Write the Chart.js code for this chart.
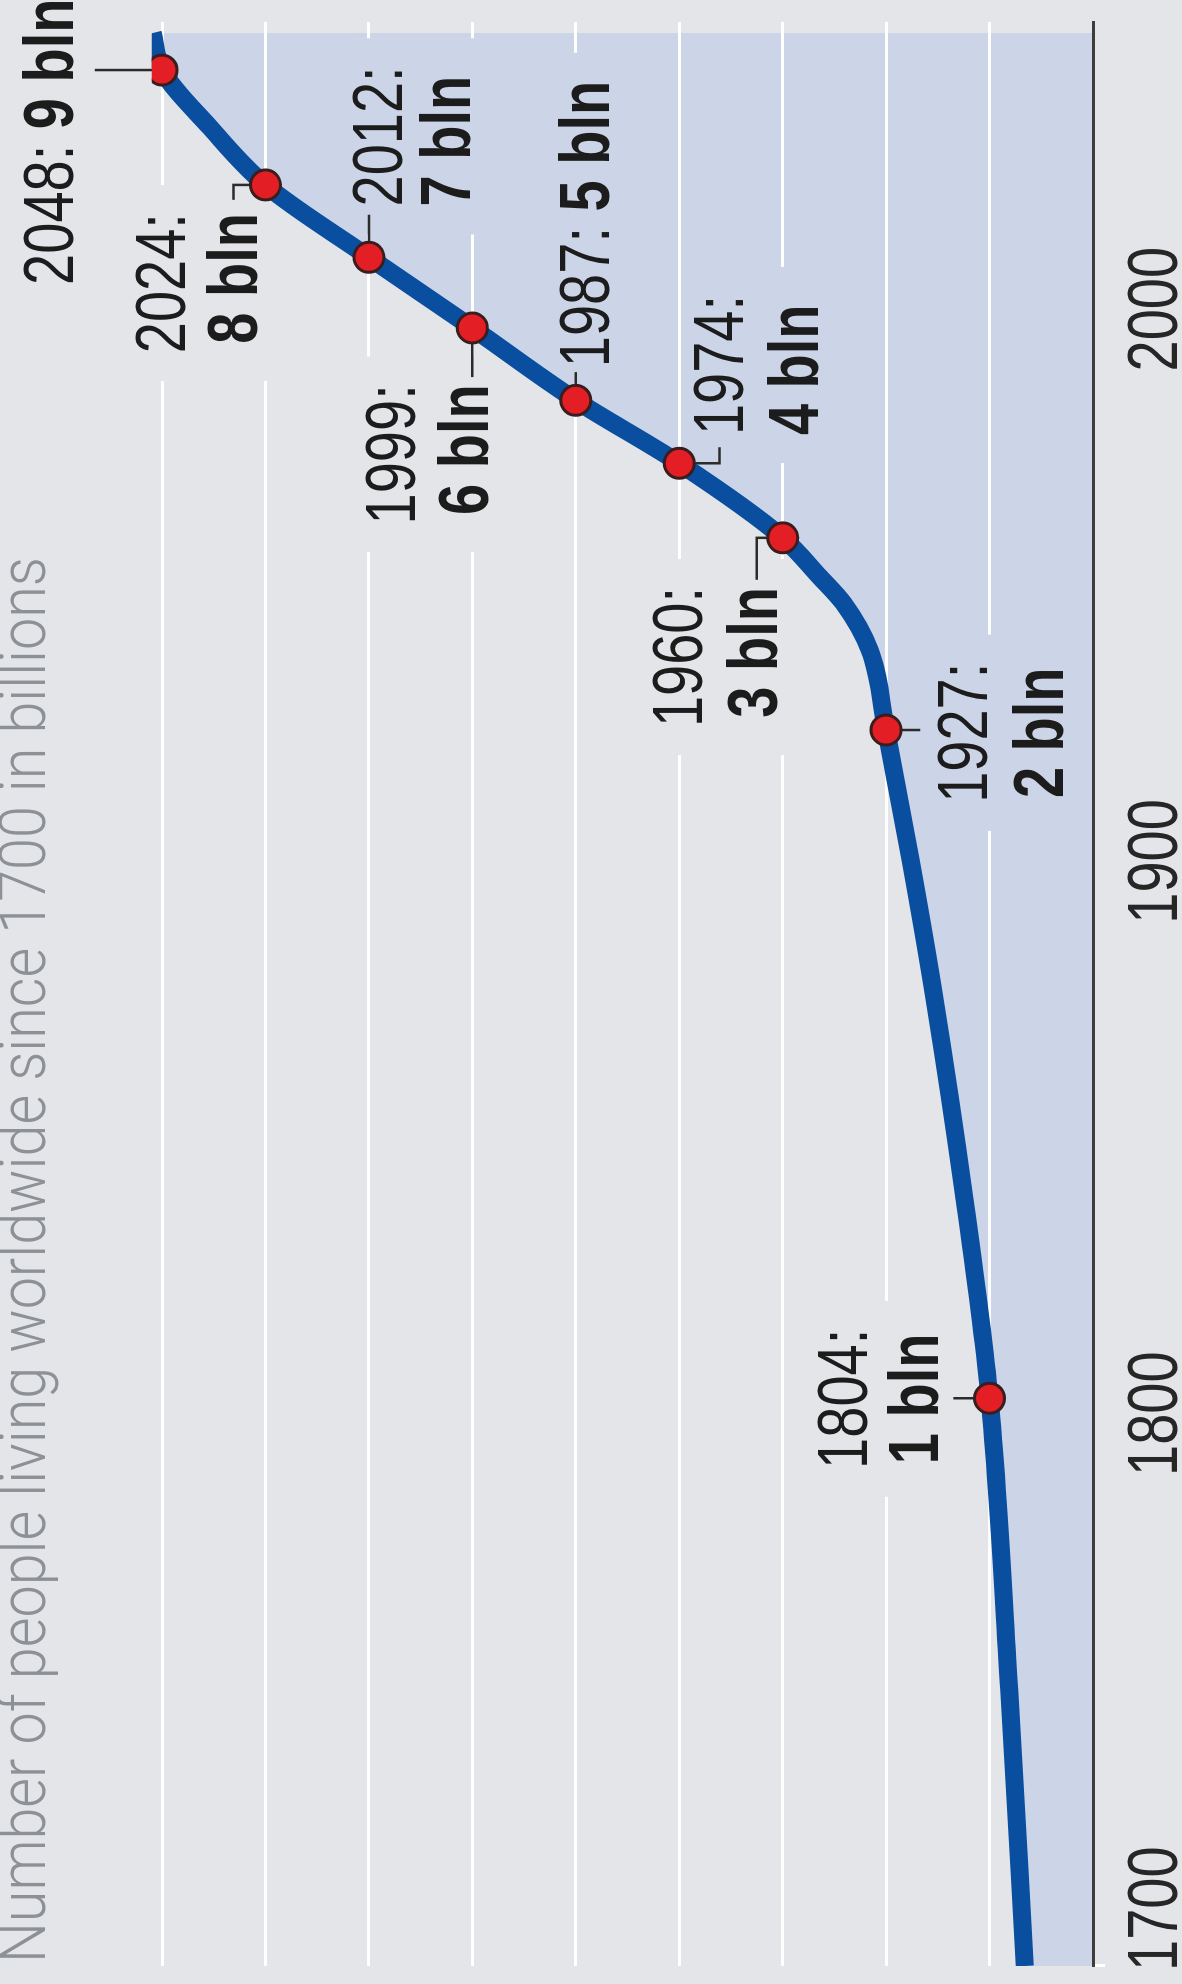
<!DOCTYPE html>
<html><head><meta charset="utf-8">
<script src="https://cdn.jsdelivr.net/npm/chart.js@4.4.1/dist/chart.umd.min.js"></script>
<style>
html,body{margin:0;padding:0;background:#e3e5e8;overflow:hidden;width:1182px;height:1984px;}
#wrap{position:absolute;left:0;top:0;width:1984px;height:1182px;transform-origin:0 0;transform:translate(0,1984px) rotate(-90deg);}
canvas{display:block;}
</style></head><body>
<div id="wrap"><canvas id="c" width="1984" height="1182"></canvas></div>
<script>
// ---- data (years, world population in billions) ----
const lineYears = [1700, 1750, 1802.8, 1840, 1875, 1900, 1923.8, 1938.3, 1946.7, 1951.5, 1958.6, 1972.1, 1983.5, 1996.6, 2009.4, 2022.5, 2033, 2043.3, 2050];
const lineVals  = [0.66, 0.81, 1.0,    1.25, 1.53, 1.76, 2.0,    2.16,   2.41,   2.64,   3.0,    4.0,    5.0,    6.0,    7.0,    8.0,    8.54, 9.0,    9.09];

const markYears = [1802.8, 1923.8, 1958.6, 1972.1, 1983.5, 1996.6, 2009.4, 2022.5, 2043.3];
const markVals  = [1, 2, 3, 4, 5, 6, 7, 8, 9];
const markYearText = ['1804', '1927', '1960', '1974', '1987', '1999', '2012', '2024', '2048'];
const markValText  = ['1 bln', '2 bln', '3 bln', '4 bln', '5 bln', '6 bln', '7 bln', '8 bln', '9 bln'];

const xTickLabels = ['1700', '1800', '1900', '2000'];
const titleText = 'Number of people living worldwide since 1700 in billions';

// ---- label placement (in data units: year / billions) ----
const labelLayout = [
  {single:false, align:'center', x:1802.7, base:[2.185, 1.498], leader:[[1802.8,1.35],[1802.8,1.0]]},
  {single:false, align:'center', x:1923.3, base:[1.025, 0.29],  leader:[[1923.8,1.67],[1923.8,2.0]]},
  {single:false, align:'right',  x:1949.7, base:[3.78, 3.055],  leader:[[1951.0,3.25],[1958.6,3.25],[1958.6,3.0]]},
  {single:false, align:'left',   x:1977.2, base:[3.384, 2.659], leader:[[1975.0,3.61],[1972.1,3.61],[1972.1,4.0]]},
  {single:true,  align:'left',   x:1989.5, base:[4.679],        leader:[[1988.6,5.0],[1983.5,5.0]]},
  {single:false, align:'right',  x:1986.4, base:[6.555, 5.849], leader:[[1987.7,6.0],[1996.6,6.0]]},
  {single:false, align:'left',   x:2018.6, base:[6.68, 6.023],  leader:[[2017.1,7.0],[2009.4,7.0]]},
  {single:false, align:'right',  x:2017.4, base:[8.778, 8.082], leader:[[2019.8,8.31],[2022.5,8.31],[2022.5,8.0]]},
  {single:true,  align:'left',   x:2004.4, base:[9.86],         leader:[[2043.3,9.65],[2043.3,9.0]]}
];

const BG = '#e3e5e8', FILL = '#ccd4e7';
const FS = 70, SX = 0.8;
const fontReg = '400 ' + FS + 'px "Liberation Sans", Arial, sans-serif';
const fontBold = '700 ' + FS + 'px "Liberation Sans", Arial, sans-serif';

function labelLines(i) {
  const L = labelLayout[i];
  if (L.single) return [[{t: markYearText[i] + ': ', b:false}, {t: markValText[i], b:true}]];
  return [[{t: markYearText[i] + ':', b:false}], [{t: markValText[i], b:true}]];
}
function segsWidth(ctx, segs) {
  let w = 0;
  segs.forEach(s => { ctx.font = s.b ? fontBold : fontReg; w += ctx.measureText(s.t).width * SX; });
  return w;
}
function drawSegs(ctx, segs, x, y, color) {
  let cx = x;
  segs.forEach(s => {
    ctx.save();
    ctx.font = s.b ? fontBold : fontReg;
    const w = ctx.measureText(s.t).width * SX;
    ctx.fillStyle = color;
    ctx.textAlign = 'left'; ctx.textBaseline = 'alphabetic';
    ctx.translate(cx, y); ctx.scale(SX, 1);
    ctx.fillText(s.t, 0, 0);
    ctx.restore();
    cx += w;
  });
}
function lineStartX(ctx, segs, L, xs) {
  const ax = xs.getPixelForValue(L.x);
  const w = segsWidth(ctx, segs);
  if (L.align === 'center') return ax - w / 2;
  if (L.align === 'right') return ax - w;
  return ax;
}
function traceArea(ctx, chart) {
  const pts = chart.getDatasetMeta(1).data;
  const y0 = chart.scales.y.getPixelForValue(0);
  ctx.beginPath();
  ctx.moveTo(pts[0].x, pts[0].y);
  for (let i = 1; i < pts.length; i++) {
    const a = pts[i-1], b = pts[i];
    if (a.cp2x !== undefined && b.cp1x !== undefined) ctx.bezierCurveTo(a.cp2x, a.cp2y, b.cp1x, b.cp1y, b.x, b.y);
    else ctx.lineTo(b.x, b.y);
  }
  ctx.lineTo(pts[pts.length-1].x, y0);
  ctx.lineTo(pts[0].x, y0);
  ctx.closePath();
}

const annotPlugin = {
  id: 'annot',
  beforeDatasetsDraw(chart) {
    const ctx = chart.ctx, xs = chart.scales.x, ys = chart.scales.y, ca = chart.chartArea;
    // clear the grid lines behind each label
    labelLayout.forEach((L, i) => {
      const lines = labelLines(i);
      let x0 = Infinity, x1 = -Infinity, y0 = Infinity, y1 = -Infinity;
      lines.forEach((segs, k) => {
        const sx = lineStartX(ctx, segs, L, xs), w = segsWidth(ctx, segs);
        const by = ys.getPixelForValue(L.base[k]);
        x0 = Math.min(x0, sx); x1 = Math.max(x1, sx + w);
        y0 = Math.min(y0, by - FS * 0.76); y1 = Math.max(y1, by + 14);
      });
      x0 -= 28; x1 += 28; y0 -= 4;
      ctx.save();
      ctx.beginPath(); ctx.rect(x0, y0, x1 - x0, y1 - y0); ctx.clip();
      ctx.fillStyle = BG; ctx.fillRect(x0, y0, x1 - x0, y1 - y0);
      ctx.beginPath(); ctx.rect(ca.left, ca.top, ca.width, ca.height); ctx.clip();
      traceArea(ctx, chart);
      ctx.fillStyle = FILL; ctx.fill();
      ctx.restore();
    });
    // leader lines
    ctx.save();
    ctx.strokeStyle = '#2b2b2b'; ctx.lineWidth = 2.5; ctx.lineJoin = 'miter';
    labelLayout.forEach(L => {
      ctx.beginPath();
      L.leader.forEach((p, k) => {
        const px = xs.getPixelForValue(p[0]), py = ys.getPixelForValue(p[1]);
        if (k === 0) ctx.moveTo(px, py); else ctx.lineTo(px, py);
      });
      ctx.stroke();
    });
    ctx.restore();
  },
  afterDatasetsDraw(chart) {
    const ctx = chart.ctx, xs = chart.scales.x, ys = chart.scales.y, ca = chart.chartArea;
    // milestone labels
    labelLayout.forEach((L, i) => {
      labelLines(i).forEach((segs, k) => {
        drawSegs(ctx, segs, lineStartX(ctx, segs, L, xs), ys.getPixelForValue(L.base[k]), '#1c1c1c');
      });
    });
    // x tick labels (kept inside the canvas edge)
    xTickLabels.forEach(t => {
      const segs = [{t: t, b:false}];
      const w = segsWidth(ctx, segs);
      let sx = xs.getPixelForValue(Number(t)) - w / 2;
      sx = Math.max(13, Math.min(sx, chart.width - 13 - w));
      drawSegs(ctx, segs, sx, ca.bottom + 84, '#262626');
    });
    // title
    ctx.save();
    ctx.font = '300 64px Roboto, "Open Sans", sans-serif';
    const tw = ctx.measureText(titleText).width;
    ctx.fillStyle = '#8d9196';
    ctx.textBaseline = 'alphabetic'; ctx.textAlign = 'left';
    ctx.translate(21, 45); ctx.scale(1406 / tw, 1);
    ctx.fillText(titleText, 0, 0);
    ctx.restore();
  }
};

new Chart(document.getElementById('c').getContext('2d'), {
  type: 'line',
  data: {
    datasets: [
      {
        label: 'Milestones',
        data: markYears.map((x, i) => ({x: x, y: markVals[i]})),
        showLine: false,
        pointRadius: 15, pointHoverRadius: 15,
        pointBackgroundColor: '#e31e24', pointBorderColor: '#3a1d1d', pointBorderWidth: 3,
        order: 0
      },
      {
        label: 'World population',
        data: lineYears.map((x, i) => ({x: x, y: lineVals[i]})),
        borderColor: '#0a4f9f', borderWidth: 18,
        pointRadius: 0, pointHoverRadius: 0,
        cubicInterpolationMode: 'monotone',
        fill: 'origin', backgroundColor: FILL,
        order: 1
      }
    ]
  },
  options: {
    responsive: false, devicePixelRatio: 1, animation: false,
    events: [],
    layout: {padding: {left: 18, right: 22, top: 151.66, bottom: 77}},
    plugins: {
      legend: {display: false}, tooltip: {enabled: false}, title: {display: false},
      filler: {drawTime: 'beforeDraw'}
    },
    scales: {
      x: {
        type: 'linear', min: 1700, max: 2052,
        ticks: {display: false, stepSize: 50, includeBounds: false},
        afterBuildTicks: s => { s.ticks = s.ticks.filter(t => t.value <= 2000 && t.value % 50 === 0); },
        grid: {display: true, drawOnChartArea: false, drawTicks: true, tickLength: 12, tickWidth: 3, tickColor: '#ffffff'},
        border: {display: true, color: '#3d3d3d', width: 3}
      },
      y: {
        type: 'linear', min: 0, max: 9.1,
        ticks: {display: false, stepSize: 1, includeBounds: false},
        afterBuildTicks: s => { s.ticks = s.ticks.filter(t => t.value > 0 && Number.isInteger(t.value)); },
        grid: {color: '#ffffff', lineWidth: 3, drawTicks: false},
        border: {display: false}
      }
    }
  },
  plugins: [annotPlugin]
});
</script>
</body></html>
